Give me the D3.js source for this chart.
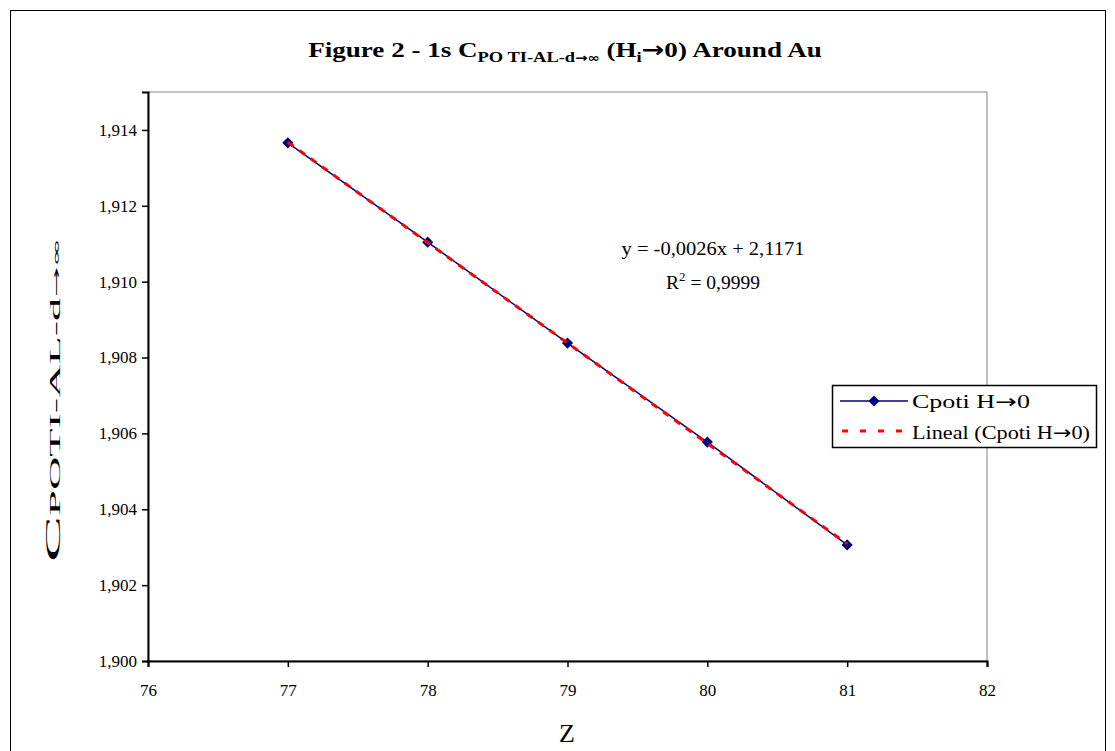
<!DOCTYPE html>
<html>
<head>
<meta charset="utf-8">
<script src="https://cdn.jsdelivr.net/npm/d3@7"></script>
<style>
  body { margin: 0; background: #fff; }
  text { font-family: "Liberation Serif", "Times New Roman", serif; fill: #000; }
  .arr { font-family: "DejaVu Sans", sans-serif; }
</style>
</head>
<body>
<div id="chart"></div>
<script>
var zValues = [77, 78, 79, 80, 81];
var cpotiValues = [1.91366, 1.91104, 1.90838, 1.90577, 1.90306];
var xTicks = [76, 77, 78, 79, 80, 81, 82];
var yTicks = [1.900, 1.902, 1.904, 1.906, 1.908, 1.910, 1.912, 1.914];
var seriesNames = ["Cpoti H", "Lineal (Cpoti H"];
var equationLines = ["y = -0,0026x + 2,1171", "= 0,9999"];

var width = 1115, height = 751;
var plot = { left: 148, right: 987, top: 92, bottom: 661 };

var svg = d3.select("#chart").append("svg")
    .attr("width", width)
    .attr("height", height);

// stretch a text along its baseline so it covers the wanted width
function fitWidth(sel, target, anchorX, anchorY, rot) {
    var w = sel.node().getBBox().width;
    var s = target / w;
    sel.attr("transform", "translate(" + anchorX + "," + anchorY + ")" +
        (rot ? " rotate(" + rot + ")" : "") + " scale(" + s + ",1)");
}

// outer chart border
svg.append("rect")
    .attr("x", 10.5).attr("y", 10.5)
    .attr("width", 1095).attr("height", 760)
    .attr("fill", "#fff").attr("stroke", "#000").attr("stroke-width", 1);

var x = d3.scaleLinear().domain([76, 82]).range([plot.left, plot.right]);
var y = d3.scaleLinear().domain([1.900, 1.915]).range([plot.bottom, plot.top]);

// plot area border (grey)
svg.append("rect")
    .attr("x", plot.left).attr("y", plot.top)
    .attr("width", plot.right - plot.left).attr("height", plot.bottom - plot.top)
    .attr("fill", "#fff").attr("stroke", "#808080").attr("stroke-width", 1);

var fmt = function(d) { return d3.format(".3f")(d).replace(".", ","); };

var yAxis = svg.append("g")
    .attr("transform", "translate(" + plot.left + ",0)")
    .call(d3.axisLeft(y).tickValues(yTicks).tickSize(6).tickFormat(fmt));
yAxis.selectAll("text").attr("font-size", 17).attr("dx", -2);

var xAxis = svg.append("g")
    .attr("transform", "translate(0," + plot.bottom + ")")
    .call(d3.axisBottom(x).tickValues(xTicks).tickSize(6).tickFormat(d3.format("d")));
xAxis.selectAll("text").attr("font-size", 17).attr("dy", "1.55em");

[yAxis, xAxis].forEach(function(a) {
    a.select(".domain").attr("stroke", "#000").attr("stroke-width", 2);
    a.selectAll(".tick line").attr("stroke", "#000").attr("stroke-width", 1.5);
    a.selectAll("text").style("font-family", "Liberation Serif, serif");
});

// data line
var line = d3.line()
    .x(function(d, i) { return x(zValues[i]); })
    .y(function(d) { return y(d); });

svg.append("path")
    .datum(cpotiValues)
    .attr("d", line)
    .attr("fill", "none")
    .attr("stroke", "#000080")
    .attr("stroke-width", 1.5);

var diamond = d3.symbol().type(d3.symbolDiamond2).size(80);
svg.selectAll("path.pt")
    .data(cpotiValues)
    .enter()
    .append("path")
    .attr("class", "pt")
    .attr("d", diamond)
    .attr("transform", function(d, i) { return "translate(" + x(zValues[i]) + "," + y(d) + ")"; })
    .attr("fill", "#000080");

// linear trendline (least squares of the data)
var mx = d3.mean(zValues), my = d3.mean(cpotiValues);
var sxy = d3.sum(zValues, function(z, i) { return (z - mx) * (cpotiValues[i] - my); });
var sxx = d3.sum(zValues, function(z) { return (z - mx) * (z - mx); });
var slope = sxy / sxx, icpt = my - slope * mx;
var xr = d3.extent(zValues);

svg.append("line")
    .attr("x1", x(xr[0])).attr("y1", y(icpt + slope * xr[0]))
    .attr("x2", x(xr[1])).attr("y2", y(icpt + slope * xr[1]))
    .attr("stroke", "#ff0000")
    .attr("stroke-width", 3)
    .attr("stroke-dasharray", "7,7");

// equation
var eq = svg.append("text")
    .attr("text-anchor", "middle")
    .attr("font-size", 18)
    .text(equationLines[0]);
fitWidth(eq, 183, 713, 255);

var r2 = svg.append("text")
    .attr("text-anchor", "middle")
    .attr("font-size", 18);
r2.append("tspan").text("R");
r2.append("tspan").attr("font-size", 12).attr("dy", -8).text("2");
r2.append("tspan").attr("dy", 8).text(" " + equationLines[1]);
fitWidth(r2, 94, 713, 289);

// title
var title = svg.append("text")
    .attr("text-anchor", "middle")
    .attr("font-size", 22)
    .attr("font-weight", "bold");
title.append("tspan").text("Figure 2 - 1s C");
title.append("tspan").attr("font-size", 15).attr("dy", 5).text("PO TI-AL-d");
title.append("tspan").attr("class", "arr").attr("font-size", 12).text("\u2192\u221e");
title.append("tspan").attr("dy", -5).text(" (H");
title.append("tspan").attr("font-size", 15).attr("dy", 5).text("i");
title.append("tspan").attr("class", "arr").attr("dy", -5).text("\u2192");
title.append("tspan").text("0) Around Au");
fitWidth(title, 514, 565, 57);

// axis titles
svg.append("text")
    .attr("x", 567).attr("y", 742)
    .attr("text-anchor", "middle")
    .attr("font-size", 26)
    .text("Z");

var yt = svg.append("text")
    .attr("text-anchor", "start");
yt.append("tspan").attr("font-size", 21).text("C");
yt.append("tspan").attr("font-size", 14).text("POTI-AL-d");
yt.append("tspan").attr("class", "arr").attr("font-size", 11).text("\u2192\u221e");
fitWidth(yt, 325, 60, 562, -90);

// legend
var lg = svg.append("g").attr("transform", "translate(832,385)");
lg.append("rect")
    .attr("x", 0.5).attr("y", 0.5)
    .attr("width", 264).attr("height", 62)
    .attr("fill", "#fff").attr("stroke", "#000").attr("stroke-width", 1.5);

lg.append("line")
    .attr("x1", 8).attr("x2", 76).attr("y1", 16).attr("y2", 16)
    .attr("stroke", "#000080").attr("stroke-width", 1.5);
lg.append("path")
    .attr("d", diamond)
    .attr("transform", "translate(42,16)")
    .attr("fill", "#000080");
lg.append("line")
    .attr("x1", 10).attr("x2", 76).attr("y1", 46).attr("y2", 46)
    .attr("stroke", "#ff0000").attr("stroke-width", 3)
    .attr("stroke-dasharray", "6,12");

var legendWidths = [118, 178];
var legendTails = ["0", "0)"];
seriesNames.forEach(function(name, i) {
    var t = lg.append("text").attr("font-size", 19);
    t.append("tspan").text(name);
    t.append("tspan").attr("class", "arr").text("\u2192");
    t.append("tspan").text(legendTails[i]);
    fitWidth(t, legendWidths[i], 80, 23 + i * 31);
});
</script>
</body>
</html>
